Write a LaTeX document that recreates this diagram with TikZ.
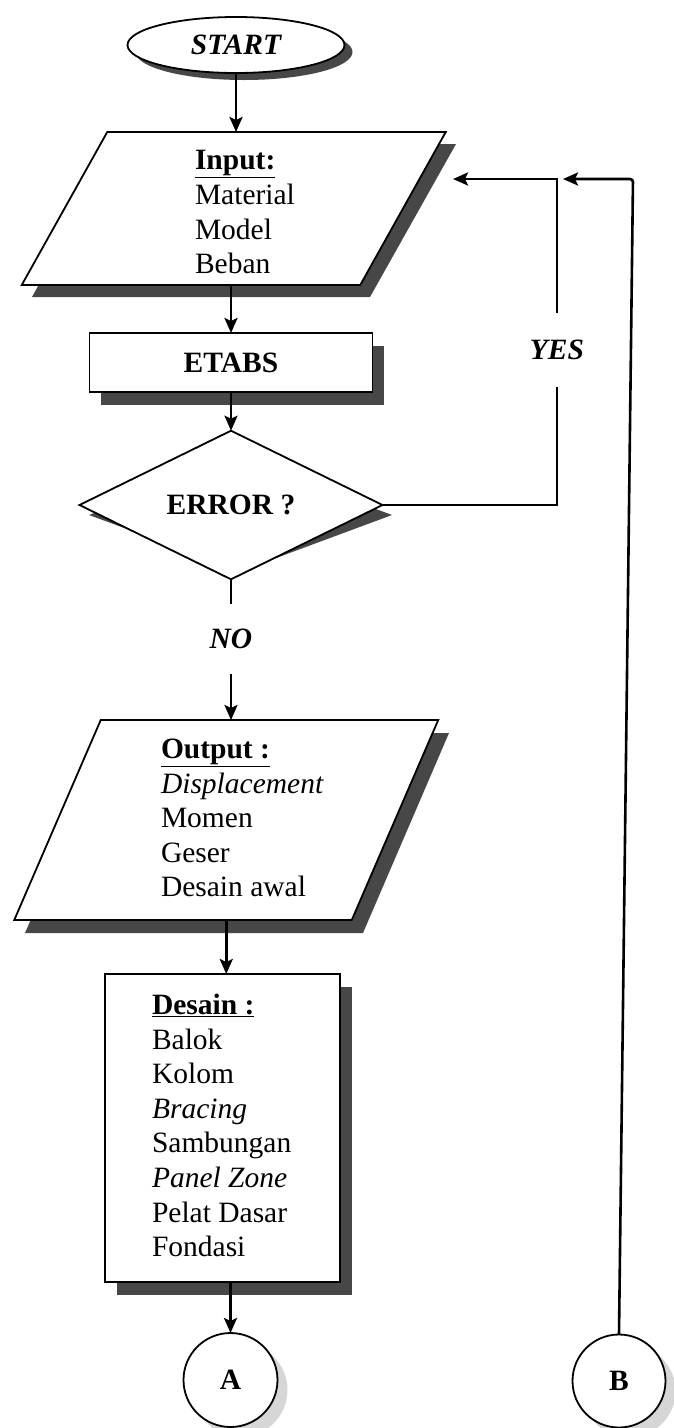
\documentclass[tikz,border=0pt]{standalone}
\usepackage{fontspec}
\setmainfont{Liberation Serif}
\usetikzlibrary{arrows.meta,shapes.geometric}
\newcommand{\myfs}{\fontsize{29.5}{34.6}\selectfont}
\begin{document}
\begin{tikzpicture}[x=1pt,y=-1pt,
  every node/.style={font=\myfs, inner sep=0pt, outer sep=0pt},
  ln/.style={line width=2.6pt},
  arr/.style={line width=2.6pt,-{Stealth[length=15pt,width=13pt,inset=3pt]}},
  shp/.style={draw, line width=1.8pt, fill=white},
  shad/.style={fill=black!72, draw=none},
  lshad/.style={fill=black!16, draw=none},
  frame/.style={draw=none, minimum width=#1},
  lst/.style={anchor=north west, align=left}
]
\useasboundingbox (0,0) rectangle (673,1428);

% ---------- START ----------
\fill[shad] (244,52) ellipse [x radius=108.5, y radius=28];
\node[shp, ellipse, minimum width=217, minimum height=56] (start) at (236,45) {\bfseries\itshape START};

% ---------- Input ----------
\fill[shad, shift={(10,12)}] (107,132) -- (446,132) -- (360,285) -- (22,285) -- cycle;
\node[frame=338.5, minimum height=153] (inp) at (233.75,208.5) {};
\draw[shp] ([xshift=42.75pt]inp.north west) -- ([xshift=42.75pt]inp.north east)
  -- ([xshift=-42.75pt]inp.south east) -- ([xshift=-42.75pt]inp.south west) -- cycle;
\node[lst] (inptxt) at (195,150.5) {\textbf{\underline{Input:}}\\Material\\Model\\Beban};

% ---------- ETABS ----------
\fill[shad] (101,346) rectangle (384,405);
\node[shp, rectangle, minimum width=283, minimum height=59] (etabs) at (231,362.5) {\bfseries ETABS};

% ---------- ERROR ? ----------
\fill[shad] (241,459) -- (392,515) -- (241,571) -- (89,515) -- cycle;
\node[shp, diamond, minimum width=303, minimum height=112] (err) at (231,505) {\bfseries ERROR ?};

% ---------- NO / YES labels ----------
\node[minimum height=70] (no) at (231,639) {\bfseries\itshape NO};
\node[minimum height=74] (yes) at (557,350) {\bfseries\itshape YES};

% ---------- Output ----------
\fill[shad, shift={(11,13)}] (101,720) -- (438,720) -- (352,920) -- (14,920) -- cycle;
\node[frame=337.5, minimum height=200] (out) at (226.25,820) {};
\draw[shp] ([xshift=43.25pt]out.north west) -- ([xshift=43.25pt]out.north east)
  -- ([xshift=-43.25pt]out.south east) -- ([xshift=-43.25pt]out.south west) -- cycle;
\node[lst] (outtxt) at (161,739) {\textbf{\underline{Output :}}\\\textit{Displacement}\\Momen\\Geser\\Desain awal};

% ---------- Desain ----------
\fill[shad] (117,987) rectangle (352,1295);
\node[shp, rectangle, minimum width=235, minimum height=308] (des) at (222.5,1128) {};
\node[lst] (destxt) at (152,994) {\textbf{\underline{Desain :}}\\Balok\\Kolom\\\textit{Bracing}\\Sambungan\\\textit{Panel Zone}\\Pelat Dasar\\Fondasi};

% ---------- connectors A / B ----------
\fill[lshad] (240.5,1390) circle (47);
\node[shp, circle, minimum size=94] (A) at (230.5,1380) {\bfseries A};
\fill[lshad] (629,1391) circle (46.5);
\node[shp, circle, minimum size=93] (B) at (619,1381) {\bfseries B};

% ---------- connectors ----------
\coordinate (intip) at (453,179);
\coordinate (bcorner) at (633,179);
\coordinate (btip) at (563,179);

\draw[arr] (start.south) -- (start.south |- inp.north);
\draw[arr] (etabs.north |- inp.south) -- (etabs.north);
\draw[arr] (etabs.south) -- (err.north);
\draw[ln] (err.south) -- (no.north);
\draw[arr] (no.south) -- (no.south |- out.north);
\draw[arr] (out.south) -- (out.south |- des.north);
\draw[arr] (A.north |- des.south) -- (A.north);
\draw[ln] (err.east) -| (yes.south);
\draw[arr] (yes.north) |- (intip);
\draw[arr, rounded corners=3pt] (B.north) -- (bcorner) -- (btip);
\end{tikzpicture}
\end{document}
